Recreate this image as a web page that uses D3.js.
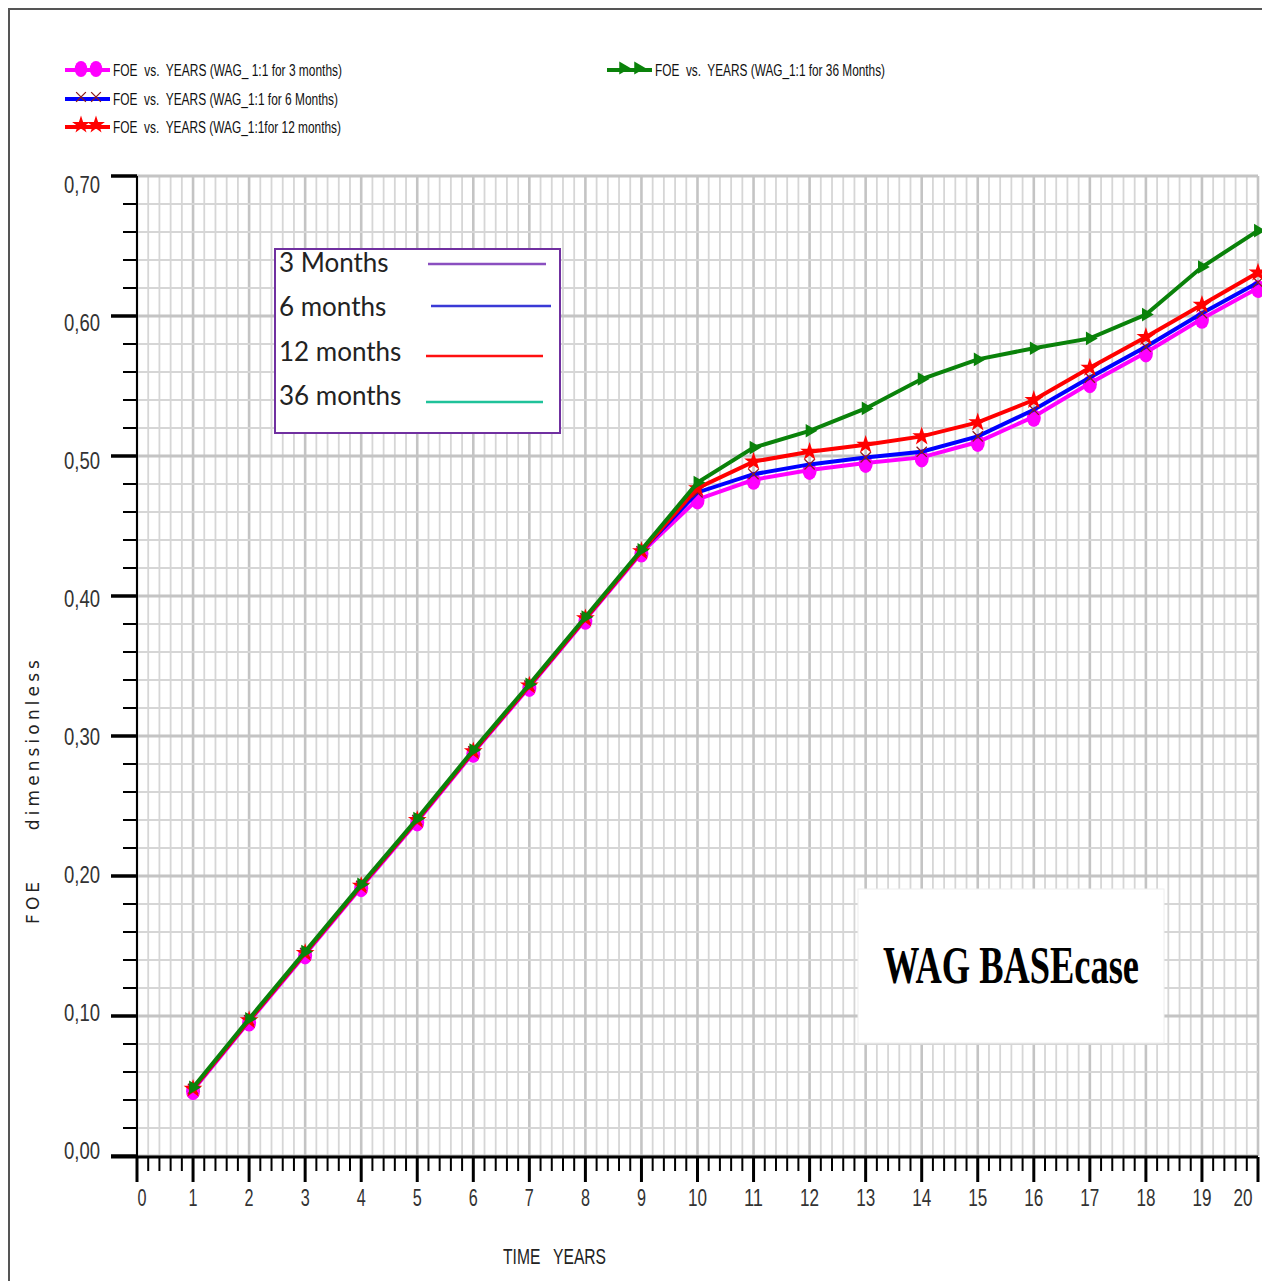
<!DOCTYPE html>
<html>
<head>
<meta charset="utf-8">
<script src="https://cdn.jsdelivr.net/npm/d3@7"></script>
<style>
  body { margin: 0; background: #fff; }
  svg { display: block; }
  text { white-space: pre; }
</style>
</head>
<body>
<script>
// data
const years = [1, 2, 3, 4, 5, 6, 7, 8, 9, 10, 11, 12, 13, 14, 15, 16, 17, 18, 19, 20];
const foe3m  = [0.047, 0.096, 0.144, 0.192, 0.239, 0.288, 0.335, 0.383, 0.431, 0.469, 0.483, 0.490, 0.495, 0.499, 0.510, 0.528, 0.552, 0.574, 0.598, 0.620];
const foe6m  = [0.048, 0.097, 0.145, 0.193, 0.240, 0.289, 0.336, 0.384, 0.432, 0.474, 0.487, 0.494, 0.499, 0.503, 0.514, 0.533, 0.556, 0.578, 0.602, 0.624];
const foe12m = [0.048, 0.097, 0.145, 0.193, 0.240, 0.289, 0.336, 0.384, 0.432, 0.477, 0.496, 0.503, 0.508, 0.514, 0.524, 0.540, 0.563, 0.585, 0.608, 0.631];
const foe36m = [0.049, 0.098, 0.146, 0.194, 0.241, 0.290, 0.337, 0.385, 0.433, 0.481, 0.506, 0.518, 0.534, 0.555, 0.569, 0.577, 0.584, 0.601, 0.635, 0.661];

const xTicks = [0, 1, 2, 3, 4, 5, 6, 7, 8, 9, 10, 11, 12, 13, 14, 15, 16, 17, 18, 19, 20];
const yTicks = [0, 0.1, 0.2, 0.3, 0.4, 0.5, 0.6, 0.7];

const legendLabels = [
  "FOE  vs.  YEARS (WAG_ 1:1 for 3 months)",
  "FOE  vs.  YEARS (WAG_1:1 for 6 Months)",
  "FOE  vs.  YEARS (WAG_1:1for 12 months)",
  "FOE  vs.  YEARS (WAG_1:1 for 36 Months)"
];
const insetLabels = ["3 Months", "6 months", "12 months", "36 months"];
const insetColors = ["#8a4fc0", "#3a3ad6", "#ff1010", "#1fc29a"];

function main() {
  const W = 1262, H = 1281;
  const svg = d3.select("body").append("svg")
    .attr("width", W)
    .attr("height", H);

  // outer frame
  svg.append("path")
    .attr("d", "M9,1281 L9,9 L1262,9")
    .attr("fill", "none")
    .attr("stroke", "#555")
    .attr("stroke-width", 2);

  const x = d3.scaleLinear().domain([0, 20]).range([137, 1258]);
  const y = d3.scaleLinear().domain([0, 0.7]).range([1156, 176]);

  // grid
  const grid = svg.append("g");
  const minorX = d3.range(0, 100.5, 1).map(d => d / 5);
  const minorY = d3.range(0, 35.5, 1).map(d => d / 50);
  grid.selectAll("line.vx")
    .data(minorX)
    .enter().append("line")
    .attr("x1", d => x(d)).attr("x2", d => x(d))
    .attr("y1", y(0.7)).attr("y2", y(0))
    .attr("stroke", (d, i) => i % 5 === 0 ? "#c4c4c4" : "#d6d6d6")
    .attr("stroke-width", (d, i) => i % 5 === 0 ? 2.6 : 1.8);
  grid.selectAll("line.hy")
    .data(minorY)
    .enter().append("line")
    .attr("y1", d => y(d)).attr("y2", d => y(d))
    .attr("x1", x(0)).attr("x2", x(20))
    .attr("stroke", (d, i) => i % 5 === 0 ? "#c4c4c4" : "#d6d6d6")
    .attr("stroke-width", (d, i) => i % 5 === 0 ? 3 : 1.8);

  // y axis
  const yAx = svg.append("g");
  yAx.append("line")
    .attr("x1", 137).attr("x2", 137)
    .attr("y1", y(0.7)).attr("y2", y(0))
    .attr("stroke", "#000").attr("stroke-width", 2);
  yAx.selectAll("line.t")
    .data(minorY)
    .enter().append("line")
    .attr("x1", (d, i) => i % 5 === 0 ? 111 : 123)
    .attr("x2", 137)
    .attr("y1", d => y(d)).attr("y2", d => y(d))
    .attr("stroke", "#000")
    .attr("stroke-width", (d, i) => i % 5 === 0 ? 3.5 : 2);
  // labels drift a little from their ticks in the original
  yAx.selectAll("text")
    .data(yTicks)
    .enter().append("text")
    .attr("x", 100)
    .attr("y", d => y(d) + 3 + d * 20)
    .attr("text-anchor", "end")
    .attr("font-family", "Liberation Sans, Arial, sans-serif")
    .attr("font-size", 24)
    .attr("font-weight", 300)
    .attr("fill", "#333")
    .attr("textLength", 36)
    .attr("lengthAdjust", "spacingAndGlyphs")
    .text(d => d3.format(".2f")(d).replace(".", ","));

  // x axis
  const xAx = svg.append("g");
  xAx.append("line")
    .attr("x1", 111).attr("x2", x(20))
    .attr("y1", 1157).attr("y2", 1157)
    .attr("stroke", "#000").attr("stroke-width", 3);
  xAx.selectAll("line.t")
    .data(minorX)
    .enter().append("line")
    .attr("x1", d => x(d)).attr("x2", d => x(d))
    .attr("y1", 1157)
    .attr("y2", (d, i) => i % 5 === 0 ? 1182 : 1171)
    .attr("stroke", "#000")
    .attr("stroke-width", (d, i) => i % 5 === 0 ? 3 : 2);
  xAx.selectAll("text")
    .data(xTicks)
    .enter().append("text")
    .attr("x", d => d === 20 ? x(d) - 15 : x(d) + (d === 0 ? 5 : 0))
    .attr("y", 1206)
    .attr("text-anchor", "middle")
    .attr("font-family", "Liberation Sans, Arial, sans-serif")
    .attr("font-size", 24)
    .attr("font-weight", 300)
    .attr("fill", "#333")
    .attr("textLength", d => d >= 10 ? 19 : 9)
    .attr("lengthAdjust", "spacingAndGlyphs")
    .text(d => d);

  // axis titles
  svg.append("text")
    .attr("transform", "translate(39,792) rotate(-90)")
    .attr("text-anchor", "middle")
    .attr("font-family", "DejaVu Sans, sans-serif")
    .attr("font-size", 17)
    .attr("fill", "#222")
    .attr("textLength", 264)
    .attr("lengthAdjust", "spacing")
    .text("FOE     dimensionless");
  svg.append("text")
    .attr("x", 503).attr("y", 1264)
    .attr("font-family", "Liberation Sans, Arial, sans-serif")
    .attr("font-size", 22)
    .attr("font-weight", 300)
    .attr("fill", "#222")
    .attr("textLength", 103)
    .attr("lengthAdjust", "spacingAndGlyphs")
    .text("TIME   YEARS");

  // series
  const series = [
    { vals: foe3m,  color: "#ff00ff", marker: "circle" },
    { vals: foe6m,  color: "#0000ff", marker: "cross" },
    { vals: foe12m, color: "#ff0000", marker: "star" },
    { vals: foe36m, color: "#0a820a", marker: "tri" }
  ];
  const line = d3.line()
    .x(d => x(d[0]))
    .y(d => y(d[1]));

  function drawMarker(g, kind, color, cx, cy, s) {
    if (kind === "circle") {
      g.append("ellipse")
        .attr("cx", cx).attr("cy", cy + 1)
        .attr("rx", 7 * s).attr("ry", 9 * s)
        .attr("fill", color);
    } else if (kind === "cross") {
      g.append("path")
        .attr("d", d3.symbol().type(d3.symbolTimes).size(70 * s)())
        .attr("transform", "translate(" + cx + "," + cy + ")")
        .attr("fill", "none")
        .attr("stroke", "#8b1c1c")
        .attr("stroke-width", 1.3);
    } else if (kind === "star") {
      g.append("path")
        .attr("d", d3.symbol().type(d3.symbolStar).size(110 * s)())
        .attr("transform", "translate(" + cx + "," + cy + ")")
        .attr("fill", color);
    } else {
      g.append("path")
        .attr("d", d3.symbol().type(d3.symbolTriangle).size(80 * s)())
        .attr("transform", "translate(" + cx + "," + cy + ") rotate(90)")
        .attr("fill", color);
    }
  }

  const plot = svg.append("g");
  series.forEach(s => {
    const pts = years.map((yr, i) => [yr, s.vals[i]]);
    plot.append("path")
      .datum(pts)
      .attr("d", line)
      .attr("fill", "none")
      .attr("stroke", s.color)
      .attr("stroke-width", 4);
    const mg = plot.append("g");
    pts.forEach(p => drawMarker(mg, s.marker, s.color, x(p[0]), y(p[1]), 1));
  });

  // top legend
  const legPos = [[65, 70], [65, 99], [65, 127], [607, 70]];
  const legLen = [229, 225, 228, 230];
  series.forEach((s, i) => {
    const lg = svg.append("g");
    const lx = legPos[i][0], ly = legPos[i][1];
    lg.append("line")
      .attr("x1", lx).attr("x2", lx + 45)
      .attr("y1", ly).attr("y2", ly)
      .attr("stroke", s.color).attr("stroke-width", 4);
    drawMarker(lg, s.marker, s.color, lx + 16, ly - 2, 0.9);
    drawMarker(lg, s.marker, s.color, lx + 31, ly - 2, 0.9);
    lg.append("text")
      .attr("x", lx + 48).attr("y", ly + 6)
      .attr("font-family", "Liberation Sans, Arial, sans-serif")
      .attr("font-size", 16)
      .attr("fill", "#111")
      .attr("textLength", legLen[i])
      .attr("lengthAdjust", "spacingAndGlyphs")
      .text(legendLabels[i]);
  });

  // inset legend box
  const inset = svg.append("g");
  inset.append("rect")
    .attr("x", 275).attr("y", 249)
    .attr("width", 285).attr("height", 184)
    .attr("fill", "#fff")
    .attr("stroke", "#7030a0")
    .attr("stroke-width", 2);
  const insetTextY = [272, 316, 361, 405];
  const insetLineY = [264, 306, 356, 402];
  const insetLineX = [[428, 546], [431, 551], [426, 543], [426, 543]];
  insetLabels.forEach((t, i) => {
    inset.append("text")
      .attr("x", 279).attr("y", insetTextY[i])
      .attr("font-family", "Lato, Open Sans, sans-serif")
      .attr("font-size", 26)
      .attr("fill", "#222")
      .text(t);
    inset.append("line")
      .attr("x1", insetLineX[i][0]).attr("x2", insetLineX[i][1])
      .attr("y1", insetLineY[i]).attr("y2", insetLineY[i])
      .attr("stroke", insetColors[i])
      .attr("stroke-width", 2.5);
  });

  // title box
  svg.append("rect")
    .attr("x", 858).attr("y", 889)
    .attr("width", 306).attr("height", 154)
    .attr("fill", "#fff")
    .attr("stroke", "#eee")
    .attr("stroke-width", 1);
  svg.append("text")
    .attr("x", 883).attr("y", 983)
    .attr("font-family", "Liberation Serif, Times New Roman, serif")
    .attr("font-weight", "bold")
    .attr("font-size", 52)
    .attr("fill", "#000")
    .attr("textLength", 256)
    .attr("lengthAdjust", "spacingAndGlyphs")
    .text("WAG BASEcase");
}
window.onload = main;
</script>
</body>
</html>
